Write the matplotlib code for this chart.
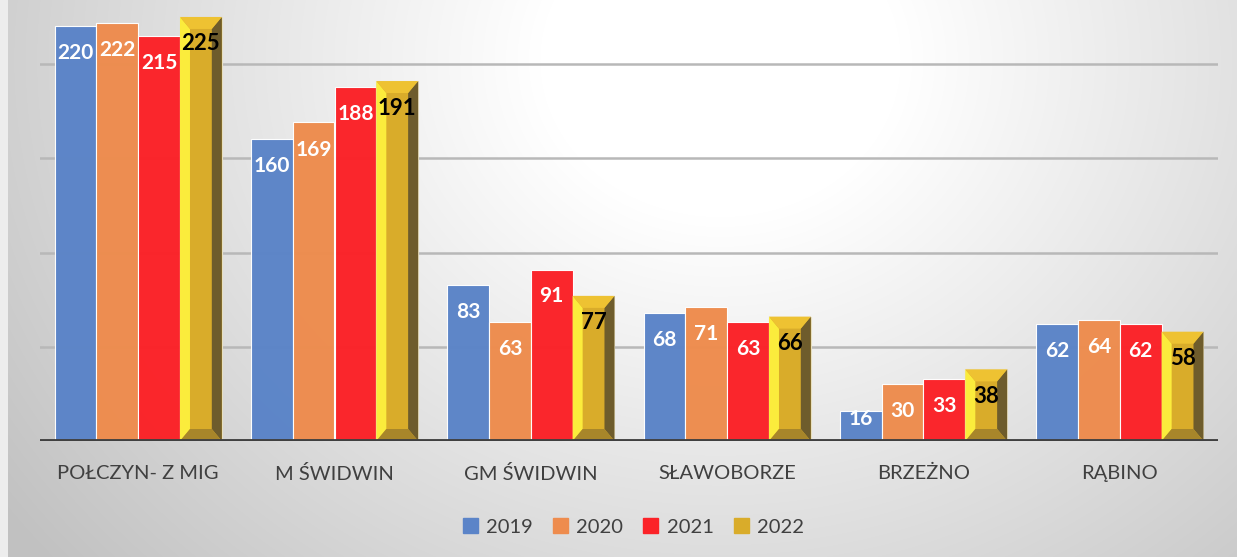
import numpy as np
from matplotlib import pyplot as plt
from matplotlib.patches import Polygon

categories = ['POŁCZYN- Z MIG', 'M ŚWIDWIN', 'GM ŚWIDWIN', 'SŁAWOBORZE', 'BRZEŻNO', 'RĄBINO']
years = ['2019', '2020', '2021', '2022']
v2019 = [220, 160, 83, 68, 16, 62]
v2020 = [222, 169, 63, 71, 30, 64]
v2021 = [215, 188, 91, 63, 33, 62]
v2022 = [225, 191, 77, 66, 38, 58]
series = [v2019, v2020, v2021, v2022]
colors = ['#5b84c8', '#ee8c4e', '#fb2228', '#d9ac2a']

plt.rcParams['font.family'] = ['Lato', 'DejaVu Sans']

fig = plt.figure(figsize=(12.37, 5.57), dpi=100)

# background radial gradient
bg = fig.add_axes([0, 0, 1, 1], zorder=-10)
W, H = 1237, 557
xx, yy = np.meshgrid(np.arange(W), np.arange(H))
d = np.hypot(xx - 720, (yy - 60) * 1.15)
t = np.clip((d - 180) / 700, 0, 1)
g = 1.0 - 0.24 * t
img = np.dstack([g, g, g])
img[:, :8] = 0.93
bg.imshow(img, aspect='auto', interpolation='bilinear')
bg.axis('off')

ax = fig.add_axes([40 / W, 1 - 441 / H, 1178 / W, 441 / H])
ax.patch.set_alpha(0)
ymax = 234
ax.set_ylim(0, ymax)
ax.set_xlim(-0.5, len(categories) - 0.5)

x = np.arange(len(categories))
bw = 0.213
px_x = (len(categories)) / 1178.0   # data units per pixel (x)
px_y = ymax / 441.0                 # data units per pixel (y)

for i, vals in enumerate(series):
    pos = x + (i - 1.5) * bw
    if i < 3:
        ax.bar(pos, vals, bw, color=colors[i], edgecolor='#ffffff', linewidth=0.8, zorder=3, alpha=0.98)
    else:
        bars = ax.bar(pos, vals, bw, color=colors[i], edgecolor='#e8e0c0', linewidth=0.8, zorder=3)
        for b in bars:
            x0, w, h = b.get_x(), b.get_width(), b.get_height()
            x1 = x0 + w
            bx = 10 * px_x
            by = min(12 * px_y, h / 3)
            # bevel faces: left, right, top, bottom
            ax.add_patch(Polygon([[x0, 0], [x0, h], [x0 + bx, h - by], [x0 + bx, by]], closed=True,
                                 facecolor='#fbec3c', edgecolor='none', zorder=4))
            ax.add_patch(Polygon([[x1, 0], [x1, h], [x1 - bx, h - by], [x1 - bx, by]], closed=True,
                                 facecolor='#6e5c2c', edgecolor='none', zorder=4))
            ax.add_patch(Polygon([[x0, h], [x1, h], [x1 - bx, h - by], [x0 + bx, h - by]], closed=True,
                                 facecolor='#eec232', edgecolor='none', zorder=4))
            ax.add_patch(Polygon([[x0, 0], [x1, 0], [x1 - bx, by], [x0 + bx, by]], closed=True,
                                 facecolor='#a8862a', edgecolor='none', zorder=4))
    for xp, v in zip(pos, vals):
        yc = max(v - 27 * px_y, 22 * px_y)
        ax.text(xp, yc, str(v), ha='center', va='center', fontsize=15 if i < 3 else 16,
                fontweight='bold', color='white' if i < 3 else 'black', zorder=6)

for yv in [50, 100, 150, 200]:
    ax.axhline(yv, color='#b8b8b8', linewidth=1.8, zorder=1)
ax.axhline(0, color='#404040', linewidth=3.5, zorder=7)

for s in ax.spines.values():
    s.set_visible(False)
ax.set_yticks([])
ax.set_xticks(x)
ax.set_xticklabels(categories, fontsize=14.5, color='#404040')
ax.tick_params(axis='x', length=0, pad=17)

# legend
handles = [plt.Rectangle((0, 0), 1, 1, color=c) for c in colors]
fig.legend(handles, years, loc='center', bbox_to_anchor=(0.512, 1 - 527 / H), ncol=4,
           frameon=False, fontsize=14.5, handlelength=0.75, handleheight=0.75,
           handletextpad=0.4, columnspacing=1.0, labelcolor='#404040')

fig.savefig('out.png', dpi=100)
